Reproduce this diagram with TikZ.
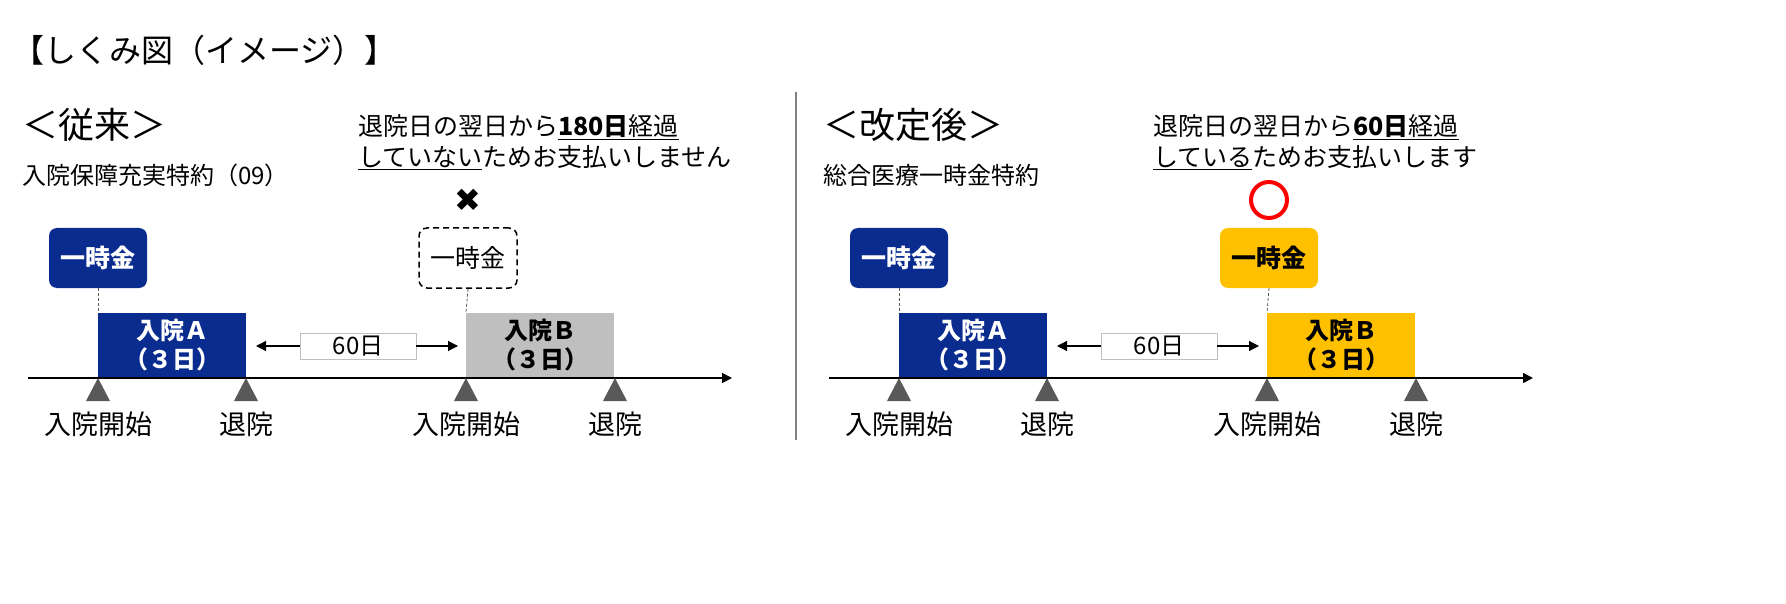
\documentclass[tikz,border=0pt]{standalone}
\usepackage{fontspec}
\setmainfont{Noto Sans CJK JP}
\newfontfamily\djv{DejaVu Sans}
\usetikzlibrary{arrows.meta}
\definecolor{navy}{HTML}{0A2C8F}
\definecolor{gold}{HTML}{FFC000}
\definecolor{lgray}{HTML}{BFBFBF}
\definecolor{tri}{HTML}{595959}
\newcommand{\fs}[1]{\fontsize{#1pt}{#1pt}\selectfont}
\tikzset{
 x=1pt,y=-1pt,
 txt/.style={inner sep=0pt,font=\fs{25}},
 pay/.style={rounded corners=8pt,minimum width=98pt,minimum height=60pt,font=\fs{25}\bfseries,inner sep=0pt},
 bar/.style={minimum width=148pt,minimum height=65pt,inner sep=0pt,font=\fs{24}\bfseries,align=center},
 day/.style={draw=lgray,fill=white,minimum width=116pt,minimum height=26pt,inner sep=0pt,font=\fs{24}},
 arr/.style={-{Triangle[length=10pt,width=10pt]},line width=1.2pt},
 tick/.style={fill=tri,draw=none},
 lab/.style={font=\fs{27},inner sep=0pt},
 dashln/.style={line width=0.8pt,dash pattern=on 3pt off 2pt,draw=tri}
}
\begin{document}
\begin{tikzpicture}
\useasboundingbox (0,0) rectangle (1786,604);
\node[anchor=west,inner sep=0pt,font=\fs{32}] (title) at (12,50) {【しくみ図（イメージ）】};
\draw[draw=gray,line width=1.2pt] (796,92) -- (796,440);
% panels
\foreach \ox/\hd/\sub/\bfill/\pn in {0/＜従来＞/入院保障充実特約（09）/lgray/L, 801/＜改定後＞/総合医療一時金特約/gold/R}{
 \begin{scope}[xshift=\ox pt]
 \node[anchor=west,inner sep=0pt,font=\fs{36}] (hd\pn) at (22,125) {\hd};
 \node[anchor=west,txt,font=\fs{24}] (sub\pn) at (22,175) {\sub};
 \node[pay,fill=navy,text=white] (p1\pn) at (98,258) {一時金};
 \node[bar,fill=navy,text=white,anchor=south west] (a\pn) at (98,378) {入院Ａ\\[5pt]（３日）};
 \node[bar,fill=\bfill,text=black,anchor=south west] (b\pn) at (466,378) {入院Ｂ\\[5pt]（３日）};
 \node[day] (d\pn) at (358,346) {60日};
 \coordinate (al\pn) at (256,346);
 \coordinate (ar\pn) at (458,346);
 \draw[arr] (d\pn.west) -- (al\pn);
 \draw[arr] (d\pn.east) -- (ar\pn);
 \coordinate (s\pn) at (28,378);
 \coordinate (e\pn) at (732,378);
 \draw[arr,line width=1.5pt] (s\pn) -- (e\pn);
 \foreach \x in {98,246,466,615}{\fill[tick] (\x,378) -- (\x-12,401) -- (\x+12,401) -- cycle;}
 \node[lab] (l1\pn) at (98,424) {入院開始};
 \node[lab] (l2\pn) at (246,424) {退院};
 \node[lab] (l3\pn) at (466,424) {入院開始};
 \node[lab] (l4\pn) at (615,424) {退院};
 \draw[dashln] (p1\pn.south) -- (a\pn.north west);
 \end{scope}
}
% left specifics
\node[anchor=west,txt] (tL1) at (358,127) {退院日の翌日から\underline{\textbf{180日}経過}};
\node[anchor=west,txt] (tL2) at (358,158) {\underline{していない}ためお支払いしません};
\node[inner sep=0pt,font=\fs{32}\djv] (xm) at (468,200) {✖};
\node[pay,draw=black,line width=1.5pt,dash pattern=on 6pt off 4pt] (p2L) at (468,258) {\mdseries 一時金};
\draw[dashln] (p2L.south) -- (bL.north west);
% right specifics
\node[anchor=west,txt] (tR1) at (1153,127) {退院日の翌日から\underline{\textbf{60日}経過}};
\node[anchor=west,txt] (tR2) at (1153,158) {\underline{している}ためお支払いします};
\node[circle,draw=red,line width=4pt,minimum size=36pt,inner sep=0pt] (ok) at (1269,200) {};
\node[pay,fill=gold,text=black] (p2R) at (1269,258) {一時金};
\draw[dashln] (p2R.south) -- (bR.north west);
\end{tikzpicture}
\end{document}
